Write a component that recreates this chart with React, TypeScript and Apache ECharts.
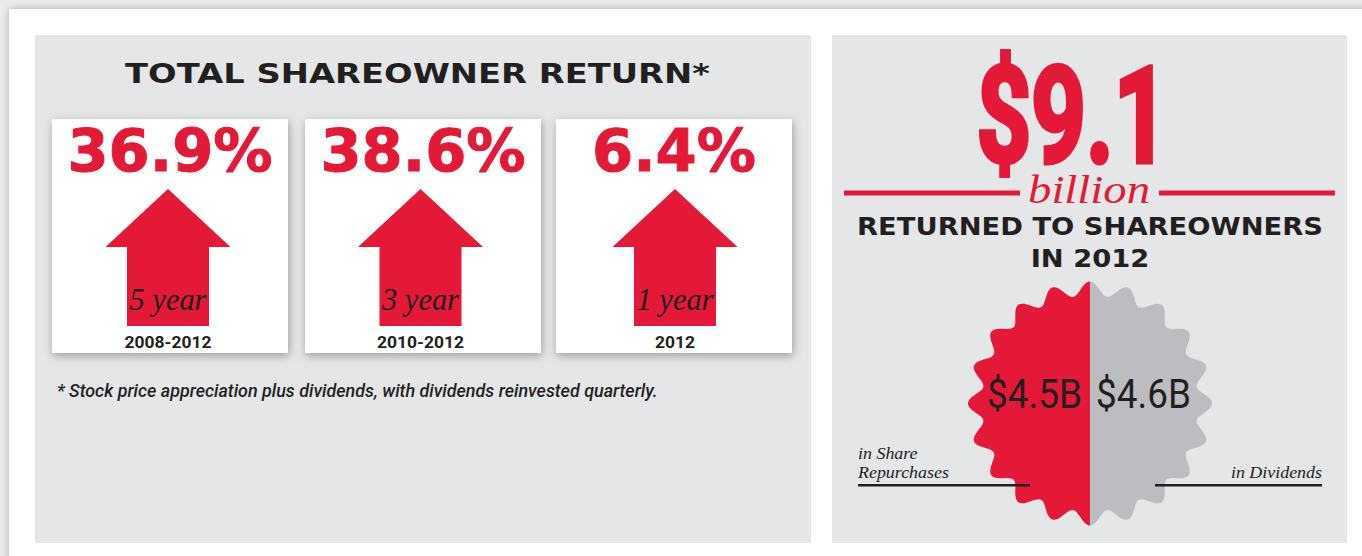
import React, { useEffect, useRef } from "react";
import * as echarts from "echarts";

// ---- data ----
const returnValues = [36.9, 38.6, 6.4];
const periodLabels = ["5 year", "3 year", "1 year"];
const rangeLabels = ["2008-2012", "2010-2012", "2012"];
const titleText = "TOTAL SHAREOWNER RETURN*";
const footnoteText = "* Stock price appreciation plus dividends, with dividends reinvested quarterly.";
const totalReturned = 9.1;
const splitValues = [4.5, 4.6];
const splitNames = [["in Share", "Repurchases"], ["in Dividends"]];
const rightTitleLines = ["RETURNED TO SHAREOWNERS", "IN 2012"];

const RED = "#e31937";
const DARK = "#231f20";
const PANEL = "#e5e6e8";
const GREY = "#bcbdc1";

let measureCtx: CanvasRenderingContext2D | null = null;
function measure(text: string, font: string): number {
  if (!measureCtx) measureCtx = document.createElement("canvas").getContext("2d");
  measureCtx!.font = font;
  return measureCtx!.measureText(text).width;
}

type TOpts = {
  size: number;
  family: string;
  weight?: string;
  style?: string;
  color?: string;
  align?: string;
  scaleX?: number;
  stroke?: number;
};

function fitScale(text: string, o: TOpts, width: number) {
  const font = `${o.style || "normal"} ${o.weight || "normal"} ${o.size}px "${o.family}"`;
  return width / measure(text, font);
}

function txt(text: string, x: number, baseline: number, o: TOpts) {
  const style: any = {
    text,
    fill: o.color || DARK,
    fontSize: o.size,
    fontFamily: o.family,
    fontWeight: o.weight || "normal",
    fontStyle: o.style || "normal",
    align: o.align || "center",
    verticalAlign: "middle",
  };
  if (o.stroke) {
    style.stroke = o.color || DARK;
    style.lineWidth = o.stroke;
  }
  return {
    type: "text",
    x,
    y: baseline - 0.34 * o.size,
    scaleX: o.scaleX || 1,
    silent: true,
    style,
  };
}

function burstHalf(cx: number, cy: number, side: number) {
  const pts: number[][] = [];
  const Rm = 115;
  const A = 7;
  for (let d = 0; d <= 180; d += 0.5) {
    const phi = (d * Math.PI) / 180;
    const c = Math.cos(20 * phi);
    const r = Rm + A * c;
    pts.push([cx + side * r * Math.sin(phi), cy - r * Math.cos(phi)]);
  }
  return pts;
}

function buildOption() {
  const g: any[] = [];
  // page + card
  g.push({ type: "rect", shape: { x: 0, y: 0, width: 1362, height: 556 }, style: { fill: "#ececee" }, silent: true });
  g.push({
    type: "rect",
    shape: { x: 9, y: 9, width: 1420, height: 620 },
    style: { fill: "#ffffff", shadowBlur: 9, shadowColor: "rgba(0,0,0,0.28)" },
    silent: true,
  });
  // panels
  g.push({ type: "rect", shape: { x: 35, y: 35, width: 776, height: 508 }, style: { fill: PANEL }, silent: true });
  g.push({ type: "rect", shape: { x: 832, y: 35, width: 515, height: 508 }, style: { fill: PANEL }, silent: true });

  // title
  const tO: TOpts = { size: 27, family: "DejaVu Sans", weight: "bold", color: DARK };
  tO.scaleX = fitScale(titleText, tO, 585);
  g.push(txt(titleText, 417.5, 83, tO));

  // boxes
  const boxX = [52, 305, 556];
  const pctO: TOpts = { size: 58, family: "DejaVu Sans", weight: "bold", color: RED, stroke: 1 };
  pctO.scaleX = fitScale(returnValues[0].toFixed(1) + "%", pctO, 205);
  const perO: TOpts = { size: 31, family: "Liberation Serif", style: "italic", color: DARK };
  perO.scaleX = fitScale(periodLabels[0], perO, 77);
  const rngO: TOpts = { size: 17, family: "Roboto", weight: "bold", color: DARK };
  rngO.scaleX = fitScale(rangeLabels[0], rngO, 87);
  const arrowCx = [168, 420.5, 675];
  returnValues.forEach((v, i) => {
    const bx = boxX[i];
    g.push({
      type: "rect",
      shape: { x: bx, y: 119, width: 236, height: 234 },
      style: { fill: "#ffffff", shadowBlur: 10, shadowColor: "rgba(0,0,0,0.32)", shadowOffsetX: 1, shadowOffsetY: 3 },
      silent: true,
    });
    const cx = bx + 118;
    g.push(txt(v.toFixed(1) + "%", cx, 171, pctO));
    const ax = arrowCx[i];
    g.push({
      type: "polygon",
      shape: {
        points: [
          [ax, 189],
          [ax + 62.5, 247],
          [ax + 41, 247],
          [ax + 41, 326],
          [ax - 41, 326],
          [ax - 41, 247],
          [ax - 62.5, 247],
        ],
      },
      style: { fill: RED },
      silent: true,
    });
    g.push(txt(periodLabels[i], ax, 310, perO));
    g.push(txt(rangeLabels[i], ax, 348, rngO));
  });

  // footnote
  const fnO: TOpts = { size: 18, family: "Roboto", weight: "500", style: "italic", color: DARK, align: "left" };
  fnO.scaleX = fitScale(footnoteText, fnO, 601);
  g.push(txt(footnoteText, 57, 397, fnO));

  // right panel
  const bigText = "$" + totalReturned.toFixed(1);
  const bigO: TOpts = { size: 134, family: "Roboto", weight: "bold", color: RED, stroke: 5 };
  bigO.scaleX = fitScale(bigText, bigO, 192);
  g.push(txt(bigText, 1072.5, 161, bigO));

  g.push({ type: "rect", shape: { x: 844, y: 190.5, width: 176, height: 5 }, style: { fill: RED }, silent: true });
  g.push({ type: "rect", shape: { x: 1159, y: 190.5, width: 176, height: 5 }, style: { fill: RED }, silent: true });
  const bilO: TOpts = { size: 40, family: "Liberation Serif", style: "italic", color: RED };
  bilO.scaleX = fitScale("billion", bilO, 122);
  g.push(txt("billion", 1089, 203, bilO));

  const rtO: TOpts = { size: 24, family: "DejaVu Sans", weight: "bold", color: DARK };
  rtO.scaleX = fitScale(rightTitleLines[0], rtO, 466);
  g.push(txt(rightTitleLines[0], 1090, 235, rtO));
  g.push(txt(rightTitleLines[1], 1090, 267, rtO));

  // starburst
  const cx = 1090;
  const cy = 403.5;
  g.push({ type: "polygon", shape: { points: burstHalf(cx, cy, -1) }, style: { fill: RED }, silent: true });
  g.push({ type: "polygon", shape: { points: burstHalf(cx, cy, 1) }, style: { fill: GREY }, silent: true });

  const valO: TOpts = { size: 40, family: "Roboto", color: DARK, align: "right" };
  const s1 = "$" + splitValues[0].toFixed(1) + "B";
  const s2 = "$" + splitValues[1].toFixed(1) + "B";
  valO.scaleX = fitScale(s1, valO, 95);
  g.push(txt(s1, 1082, 408, valO));
  g.push(txt(s2, 1096, 408, { ...valO, align: "left" }));

  const lblO: TOpts = { size: 16, family: "Liberation Serif", style: "italic", color: DARK, align: "left" };
  lblO.scaleX = fitScale(splitNames[0][1], lblO, 91);
  g.push(txt(splitNames[0][0], 858, 459, lblO));
  g.push(txt(splitNames[0][1], 858, 478, lblO));
  g.push(txt(splitNames[1][0], 1322, 478, { ...lblO, align: "right" }));
  g.push({ type: "rect", shape: { x: 858, y: 484, width: 172, height: 2.5 }, style: { fill: DARK }, silent: true });
  g.push({ type: "rect", shape: { x: 1155, y: 484, width: 167, height: 2.5 }, style: { fill: DARK }, silent: true });

  return {
    animation: false,
    backgroundColor: "#ffffff",
    graphic: { elements: g },
  };
}

export default function App() {
  const ref = useRef<HTMLDivElement>(null);
  useEffect(() => {
    if (!ref.current) return;
    const chart = echarts.init(ref.current, undefined, { renderer: "svg" });
    chart.setOption(buildOption() as any);
    return () => chart.dispose();
  }, []);
  return (
    <div
      ref={ref}
      style={{ position: "fixed", left: 0, top: 0, width: 1362, height: 556 }}
    />
  );
}
